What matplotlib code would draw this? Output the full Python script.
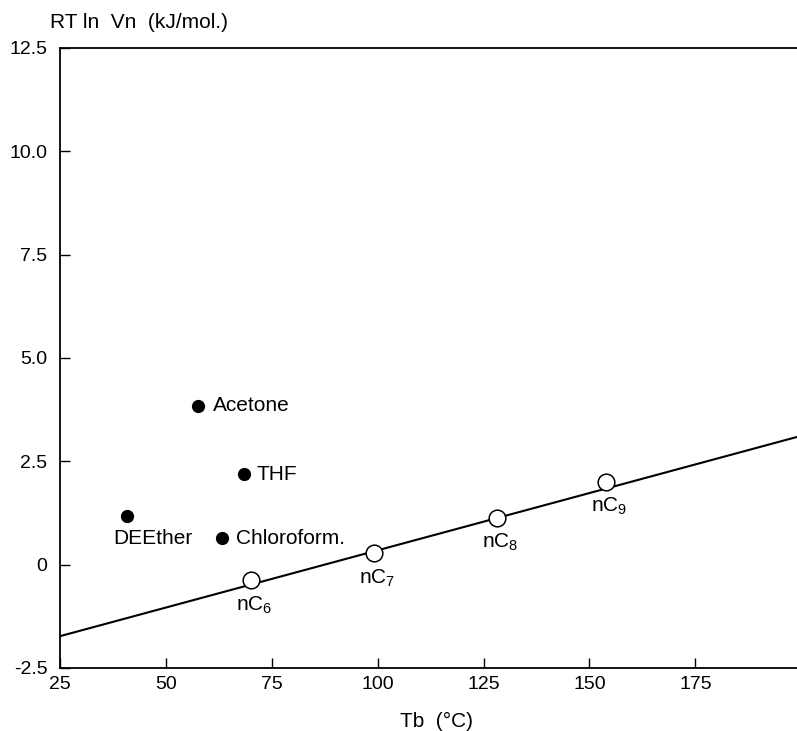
import numpy as np
import matplotlib
matplotlib.use("Agg")
import matplotlib.pyplot as plt

plt.rcParams["font.family"] = ["Liberation Sans", "DejaVu Sans"]
plt.rcParams["mathtext.fontset"] = "custom"
plt.rcParams["mathtext.rm"] = "Liberation Sans"
plt.rcParams["mathtext.it"] = "Liberation Sans"

# polar probes (filled dots)
polar_names = ["Acetone", "THF", "DEEther", "Chloroform."]
polar_tb = [57.5, 68.5, 40.8, 63.3]
polar_rt = [3.84, 2.19, 1.18, 0.64]

# n-alkanes (open circles)
alk_names = [r"nC$_6$", r"nC$_7$", r"nC$_8$", r"nC$_9$"]
alk_tb = [70.2, 99.1, 128.2, 153.9]
alk_rt = [-0.37, 0.28, 1.14, 2.01]

# reference line through the alkanes
line_tb = [25, 199]
line_rt = [-1.73, 3.09]

xticks = [25, 50, 75, 100, 125, 150, 175]
yticks = [-2.5, 0, 2.5, 5.0, 7.5, 10.0, 12.5]
yticklabels = ["-2.5", "0", "2.5", "5.0", "7.5", "10.0", "12.5"]

fig = plt.figure(figsize=(7.97, 7.31), dpi=100)
ax = fig.add_axes([60 / 797, 63 / 731, 737 / 797, 620 / 731])

ax.plot(line_tb, line_rt, color="black", lw=1.5, zorder=2)
ax.plot(alk_tb, alk_rt, "o", ms=12, mfc="white", mec="black", mew=1.1,
        ls="none", zorder=3)
ax.plot(polar_tb, polar_rt, "o", ms=8.5, color="black", ls="none", zorder=3)

# polar labels
offsets = {"Acetone": (11, 0, "left", "center"),
           "THF": (9, 0, "left", "center"),
           "Chloroform.": (10, 0, "left", "center"),
           "DEEther": (-10, -16, "left", "center")}
for name, x, y in zip(polar_names, polar_tb, polar_rt):
    dx, dy, ha, va = offsets[name]
    ax.annotate(name, (x, y), xytext=(dx, dy), textcoords="offset points",
                ha=ha, va=va, fontsize=15)

for name, x, y in zip(alk_names, alk_tb, alk_rt):
    ax.annotate(name, (x, y), xytext=(2, -18), textcoords="offset points",
                ha="center", va="center", fontsize=15)

ax.set_xlim(25, 199)
ax.set_ylim(-2.5, 12.5)
ax.set_xticks(xticks)
ax.set_yticks(yticks)
ax.set_yticklabels(yticklabels)
ax.tick_params(direction="in", length=7, width=1, labelsize=14)
ax.tick_params(axis="y", pad=9)
ax.tick_params(axis="x", pad=6)
ax.spines["right"].set_visible(False)
for s in ["left", "bottom", "top"]:
    ax.spines[s].set_linewidth(1.3)

fig.text(50 / 797, 1 - 22 / 731, "RT ln  Vn  (kJ/mol.)", fontsize=15,
         ha="left", va="center")
fig.text(437 / 797, 1 - 721 / 731, "Tb  (°C)", fontsize=15,
         ha="center", va="center")

fig.savefig("out.png", dpi=100)
